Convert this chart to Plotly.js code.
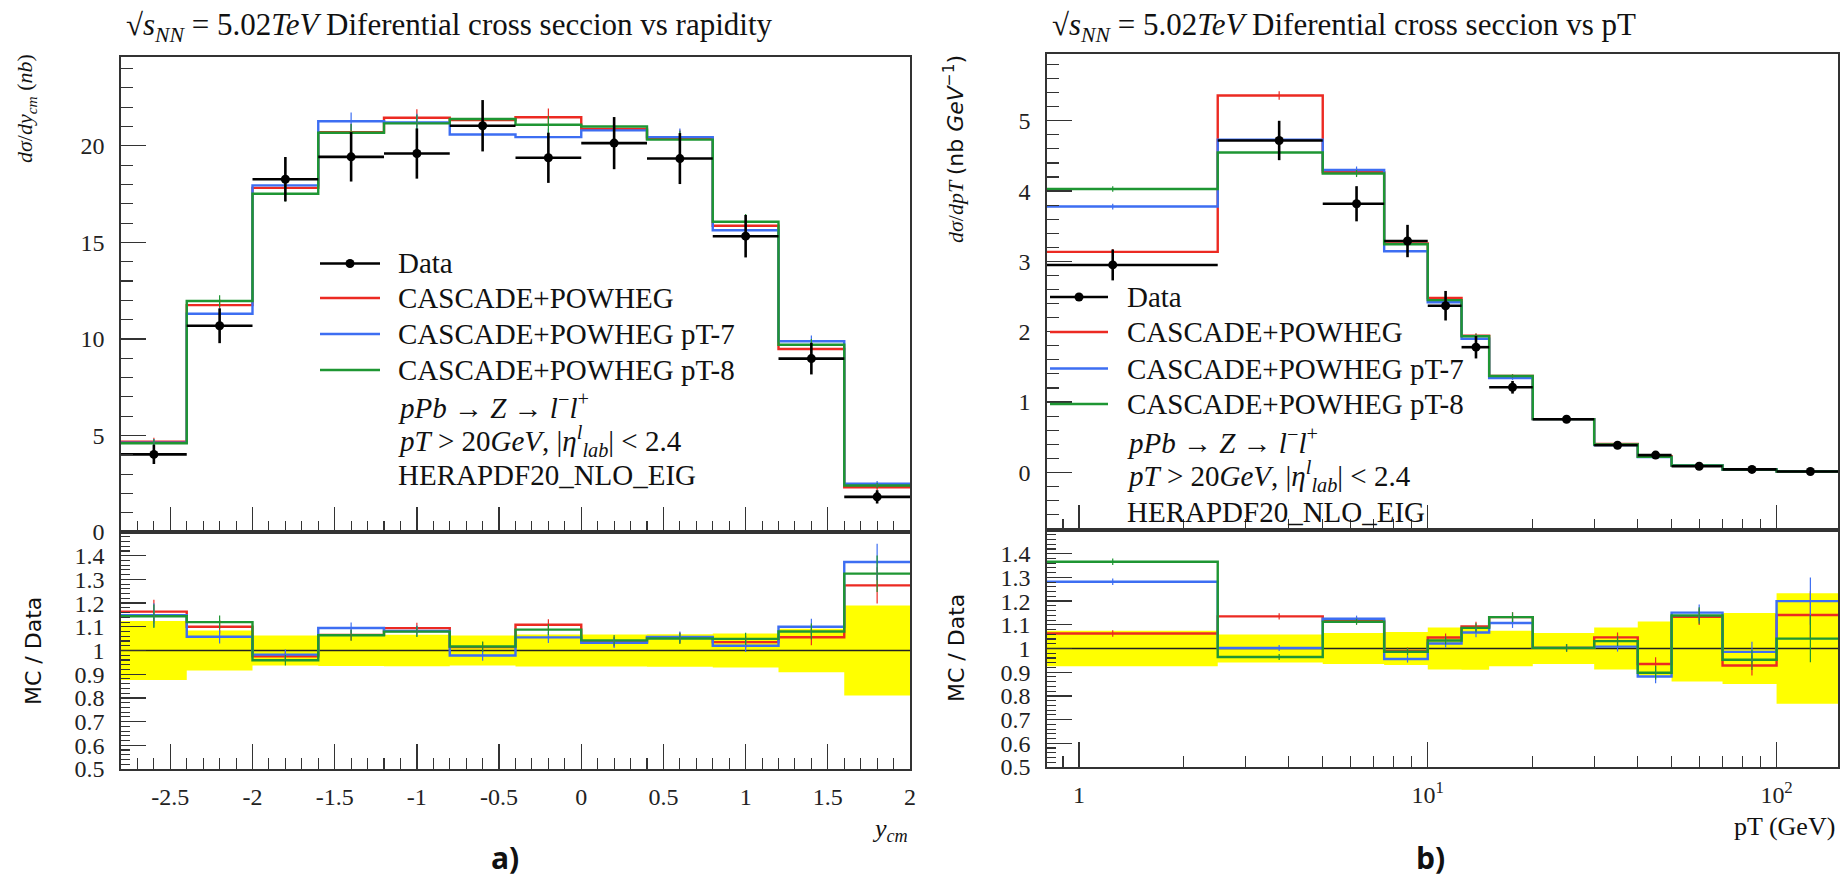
<!DOCTYPE html>
<html><head><meta charset="utf-8">
<script src="https://cdn.plot.ly/plotly-3.0.1.min.js"></script>
<style>html,body{margin:0;padding:0;background:#fff}#chart{width:1845px;height:885px}</style>
</head><body><div id="chart"></div>
<script>
// ---------- Panel a) : rapidity ----------
const rapEdges   = [-2.8,-2.4,-2.0,-1.6,-1.2,-0.8,-0.4,0,0.4,0.8,1.2,1.6,2.0];
const rapData    = [4.02,10.68,18.27,19.43,19.6,21.04,19.38,20.14,19.34,15.32,8.98,1.82];
const rapDataErr = [0.5,0.9,1.15,1.28,1.3,1.33,1.3,1.35,1.32,1.1,0.82,0.345];
const rapCascade = [4.68,11.75,17.82,20.71,21.45,21.34,21.48,20.88,20.38,15.86,9.48,2.32];
const rapPt7     = [4.62,11.3,17.95,21.27,21.21,20.59,20.45,20.8,20.45,15.63,9.88,2.50];
const rapPt8     = [4.6,11.96,17.52,20.68,21.16,21.39,21.09,21.0,20.32,16.07,9.70,2.41];
const rapMcErr   = [0.2,0.3,0.4,0.45,0.45,0.45,0.45,0.45,0.45,0.4,0.3,0.14];
const rapTickVals = [-2.5,-2,-1.5,-1,-0.5,0,0.5,1,1.5,2];
const rapTickText = ['-2.5','-2','-1.5','-1','-0.5','0','0.5','1','1.5','2'];

// ---------- Panel b) : pT ----------
const ptEdges    = [0,2.5,5,7.5,10,12.5,15,20,30,40,50,70,100,150];
const ptData     = [2.95,4.72,3.82,3.29,2.37,1.78,1.21,0.755,0.385,0.245,0.086,0.042,0.012];
const ptDataErr  = [0.22,0.28,0.25,0.23,0.21,0.16,0.09,0.049,0.034,0.028,0.012,0.0063,0.0028];
const ptCascade  = [3.136,5.36,4.27,3.255,2.48,1.945,1.37,0.757,0.403,0.229,0.0975,0.039,0.0137];
const ptPt7      = [3.78,4.73,4.30,3.145,2.42,1.90,1.34,0.757,0.388,0.216,0.099,0.0414,0.0144];
const ptPt8      = [4.03,4.55,4.25,3.245,2.45,1.935,1.37,0.757,0.397,0.22,0.098,0.040,0.0125];
const ptMcErr    = [0.04,0.06,0.05,0.05,0.04,0.035,0.025,0.012,0.008,0.007,0.003,0.0018,0.0012];

const seriesNames = ['CASCADE+POWHEG','CASCADE+POWHEG pT-7','CASCADE+POWHEG pT-8'];
const ratioTickVals = [0.5,0.6,0.7,0.8,0.9,1,1.1,1.2,1.3,1.4];
const ratioTickText = ['0.5','0.6','0.7','0.8','0.9','1','1.1','1.2','1.3','1.4'];
const logMinorVals = [0.9,2,3,4,5,6,7,8,9,20,30,40,50,60,70,80,90];

const W = 1845, H = 885;
const px = v => v / W;
const py = v => 1 - v / H;
const cRed = '#ec2a22', cBlue = '#3d6ef2', cGreen = '#1e9633', cYellow = '#ffff00';
const colors = [cRed, cBlue, cGreen];

function centers(e){ return e.slice(0,-1).map((a,i)=>(a+e[i+1])/2); }
function stepY(v){ return v.concat([v[v.length-1]]); }

function buildPanel(edges, cents, data, dataErr, mcs, mcErr, xa, ya, xr, yr){
  const tr = [];
  mcs.forEach((v,k)=>tr.push({type:'scatter',mode:'lines',x:edges,y:stepY(v),
    line:{shape:'hv',color:colors[k],width:2.4},xaxis:xa,yaxis:ya,name:seriesNames[k],hoverinfo:'skip'}));
  mcs.forEach((v,k)=>tr.push({type:'scatter',mode:'markers',x:cents,y:v,
    marker:{size:1,color:colors[k]},error_y:{type:'data',array:mcErr,color:colors[k],thickness:1.2,width:0},
    xaxis:xa,yaxis:ya,hoverinfo:'skip'}));
  tr.push({type:'scatter',mode:'markers',x:cents,y:data,name:'Data',
    marker:{size:9,color:'#000'},
    error_x:{type:'data',symmetric:false,array:cents.map((c,i)=>edges[i+1]-c),arrayminus:cents.map((c,i)=>c-edges[i]),color:'#000',thickness:2.6,width:0},
    error_y:{type:'data',array:dataErr,color:'#000',thickness:2.6,width:0},
    xaxis:xa,yaxis:ya});
  const rel = dataErr.map((e,i)=>e/data[i]);
  tr.push({type:'scatter',mode:'lines',x:edges,y:stepY(rel.map(r=>1+r)),line:{shape:'hv',width:0,color:'rgba(0,0,0,0)'},xaxis:xr,yaxis:yr,hoverinfo:'skip'});
  tr.push({type:'scatter',mode:'lines',x:edges,y:stepY(rel.map(r=>1-r)),line:{shape:'hv',width:0,color:'rgba(0,0,0,0)'},fill:'tonexty',fillcolor:cYellow,xaxis:xr,yaxis:yr,hoverinfo:'skip'});
  tr.push({type:'scatter',mode:'lines',x:[edges[0],edges[edges.length-1]],y:[1,1],line:{color:'#222',width:1.6},xaxis:xr,yaxis:yr,hoverinfo:'skip'});
  mcs.forEach((v,k)=>tr.push({type:'scatter',mode:'lines',x:edges,y:stepY(v.map((m,i)=>m/data[i])),
    line:{shape:'hv',color:colors[k],width:2.4},xaxis:xr,yaxis:yr,hoverinfo:'skip'}));
  mcs.forEach((v,k)=>tr.push({type:'scatter',mode:'markers',x:cents,y:v.map((m,i)=>m/data[i]),
    marker:{size:1,color:colors[k]},error_y:{type:'data',array:mcErr.map((e,i)=>e/data[i]),color:colors[k],thickness:1.2,width:0},
    xaxis:xr,yaxis:yr,hoverinfo:'skip'}));
  return tr;
}

const ptEdgesPlot = ptEdges.map(e => e > 0 ? e : 1e-3);
const traces = [].concat(
  buildPanel(rapEdges, centers(rapEdges), rapData, rapDataErr, [rapCascade,rapPt7,rapPt8], rapMcErr, 'x','y','x2','y2'),
  buildPanel(ptEdgesPlot, centers(ptEdges), ptData, ptDataErr, [ptCascade,ptPt7,ptPt8], ptMcErr, 'x3','y3','x4','y4')
);

const tickFont = {family:'Liberation Serif, serif', size:24, color:'#222'};
const frame = {showline:true, mirror:true, linecolor:'#333', linewidth:1.6, showgrid:false, zeroline:false,
  ticks:'inside', tickcolor:'#333', tickwidth:1.3, ticklen:25, tickfont:tickFont};
const minorX = {ticks:'inside', ticklen:11, tickcolor:'#333', tickwidth:1.1, showgrid:false};

const domA = [px(121), px(910)], domB = [px(1047), px(1838)];
const logRange = [Math.log10(0.81), Math.log10(150)];

const layout = {
  width:W, height:H, margin:{l:0,r:0,t:0,b:0}, showlegend:false,
  paper_bgcolor:'#fff', plot_bgcolor:'rgba(0,0,0,0)',
  font:{family:'Liberation Serif, serif', size:24, color:'#222'},
  xaxis: Object.assign({}, frame, {domain:domA, anchor:'y', range:[-2.8,2.0], tickmode:'array', tickvals:rapTickVals, showticklabels:false,
          minor:Object.assign({}, minorX, {tickmode:'linear', tick0:0, dtick:0.1})}),
  yaxis: Object.assign({}, frame, {domain:[py(532), py(57)], anchor:'x', range:[0,24.6], tickmode:'linear', tick0:0, dtick:5, ticklabelstandoff:10,
          minor:Object.assign({}, minorX, {tick0:0, dtick:1, ticklen:12})}),
  xaxis2: Object.assign({}, frame, {domain:domA, anchor:'y2', range:[-2.8,2.0], tickmode:'array', tickvals:rapTickVals, ticktext:rapTickText, ticklabelstandoff:6,
          minor:Object.assign({}, minorX, {tickmode:'linear', tick0:0, dtick:0.1})}),
  yaxis2: Object.assign({}, frame, {domain:[py(769), py(532)], anchor:'x2', range:[0.5,1.5], tickmode:'array', tickvals:ratioTickVals, ticktext:ratioTickText, ticklabelstandoff:10,
          minor:Object.assign({}, minorX, {tickmode:'linear', tick0:0.5, dtick:0.02, ticklen:9})}),
  xaxis3: Object.assign({}, frame, {type:'log', domain:domB, anchor:'y3', range:logRange, tickmode:'array', tickvals:[1,10,100], showticklabels:false,
          minor:Object.assign({}, minorX, {tickmode:'array', tickvals:logMinorVals})}),
  yaxis3: Object.assign({}, frame, {domain:[py(530), py(54)], anchor:'x3', range:[-0.82,5.95], tickmode:'linear', tick0:0, dtick:1, ticklabelstandoff:10,
          minor:Object.assign({}, minorX, {tick0:0, dtick:0.2, ticklen:12})}),
  xaxis4: Object.assign({}, frame, {type:'log', domain:domB, anchor:'y4', range:logRange, tickmode:'array', tickvals:[1,10,100], ticktext:['1','10<sup>1</sup>','10<sup>2</sup>'], ticklabelstandoff:6,
          minor:Object.assign({}, minorX, {tickmode:'array', tickvals:logMinorVals})}),
  yaxis4: Object.assign({}, frame, {domain:[py(767), py(530)], anchor:'x4', range:[0.5,1.5], tickmode:'array', tickvals:ratioTickVals, ticktext:ratioTickText, ticklabelstandoff:10,
          minor:Object.assign({}, minorX, {tickmode:'linear', tick0:0.5, dtick:0.02, ticklen:9})}),
  annotations: [],
  shapes: []
};

const serif = 'Liberation Serif, serif', sans = 'DejaVu Sans, sans-serif';
function note(text, x, y, o){
  layout.annotations.push(Object.assign({text, xref:'paper', yref:'paper', x:px(x), y:py(y), showarrow:false,
    xanchor:'left', yanchor:'middle', font:{family:serif, size:29, color:'#111'}}, o||{}));
}
// titles
const titleFont = {family:serif, size:31, color:'#111'};
note('√<i>s</i><sub><i>NN</i></sub> = 5.02<i>TeV</i> Diferential cross seccion vs rapidity', 124, 27, {font:titleFont});
note('√<i>s</i><sub><i>NN</i></sub> = 5.02<i>TeV</i> Diferential cross seccion vs pT', 1050, 27, {font:titleFont});
// axis titles
note('<i>dσ</i>/<i>dy</i><sub><i>cm</i></sub> (<i>nb</i>)', 26, 109, {xanchor:'center', textangle:-90, font:{family:serif,size:22,color:'#111'}});
note('<i>dσ</i>/<i>dpT</i> <span style="font-family:DejaVu Sans">(nb <i>GeV</i><sup>−1</sup>)</span>', 954, 149, {xanchor:'center', textangle:-90, font:{family:serif,size:22,color:'#111'}});
note('MC / Data', 33, 651, {xanchor:'center', textangle:-90, font:{family:sans,size:22,color:'#111'}});
note('MC / Data', 956, 648, {xanchor:'center', textangle:-90, font:{family:sans,size:22,color:'#111'}});
note('<i>y</i><sub><i>cm</i></sub>', 910, 830, {xanchor:'right', font:{family:serif,size:26,color:'#111'}});
note('pT (GeV)', 1837, 826, {xanchor:'right', font:{family:serif,size:26,color:'#111'}});
note('<b>a)</b>', 505, 880, {xanchor:'center', yanchor:'bottom', font:{family:'Open Sans, sans-serif',size:30,color:'#111'}});
note('<b>b)</b>', 1430, 880, {xanchor:'center', yanchor:'bottom', font:{family:'Open Sans, sans-serif',size:30,color:'#111'}});

// legends
const legendRows = ['Data'].concat(seriesNames).concat([
  '<i>pPb</i> → <i>Z</i> → <i>l</i><sup>−</sup><i>l</i><sup>+</sup>',
  '<i>pT</i> > 20<i>GeV</i>, |<i>η</i><sup><i>l</i></sup><sub><i>lab</i></sub>| < 2.4',
  'HERAPDF20_NLO_EIG']);
const legA = {x0:320, x1:380, tx:396, ys:[263.5,298,334,370,406,441,475]};
const legB = {x0:1050, x1:1108, tx:1125, ys:[297,332,368.5,404,441,476,512]};
[legA, legB].forEach(L=>{
  legendRows.forEach((t,i)=>note(t, L.tx, L.ys[i]));
  const symColors = ['#000'].concat(colors);
  symColors.forEach((c,i)=>layout.shapes.push({type:'line', xref:'paper', yref:'paper', x0:px(L.x0), x1:px(L.x1), y0:py(L.ys[i]), y1:py(L.ys[i]), line:{color:c, width:i===0?2.6:2.4}}));
  const mx = (L.x0+L.x1)/2;
  layout.shapes.push({type:'circle', xref:'paper', yref:'paper', x0:px(mx-4.5), x1:px(mx+4.5), y0:py(L.ys[0]+4.5), y1:py(L.ys[0]-4.5), fillcolor:'#000', line:{width:0}});
});

Plotly.newPlot('chart', traces, layout, {staticPlot:true, displayModeBar:false});
</script>
</body></html>
